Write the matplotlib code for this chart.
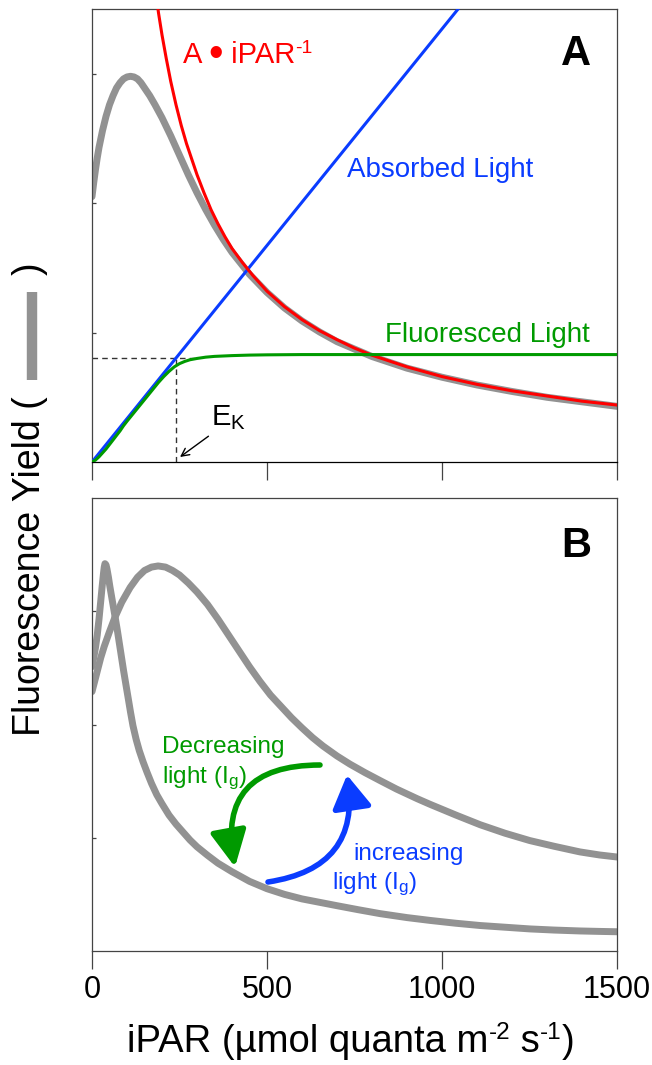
import matplotlib
matplotlib.use("Agg")
import matplotlib.pyplot as plt
from matplotlib.lines import Line2D
from matplotlib.transforms import IdentityTransform

plt.rcParams['font.family'] = ['Liberation Sans', 'DejaVu Sans']
plt.rcParams['mathtext.fontset'] = 'custom'
plt.rcParams['mathtext.rm'] = 'Liberation Sans'
plt.rcParams['mathtext.it'] = 'Liberation Sans:italic'
plt.rcParams['mathtext.bf'] = 'Liberation Sans:bold'

# ---------------- data ----------------
xticks = [0, 500, 1000, 1500]
xtick_labels = ['0', '500', '1000', '1500']

# Panel A
absorbed_x = [0, 1046]
absorbed_y = [0, 3.5]

fluor_x = [0, 10, 20, 30, 40, 50, 60, 70, 80, 90, 100, 115, 130, 145, 160, 175, 190, 205, 220, 235,
           250, 265, 280, 300, 325, 350, 400, 450, 500, 600, 800, 1000, 1500]
fluor_y = [0, 0.015, 0.04, 0.07, 0.10, 0.135, 0.17, 0.205, 0.24, 0.28, 0.315, 0.365, 0.415, 0.465,
           0.515, 0.565, 0.615, 0.66, 0.70, 0.735, 0.76, 0.777, 0.79, 0.80, 0.81, 0.816, 0.822,
           0.826, 0.828, 0.83, 0.83, 0.83, 0.83]

red_x = [185, 190, 200, 212, 225, 240, 255, 270, 285, 300, 320, 340, 360, 380, 400, 430, 460, 500,
         550, 600, 650, 700, 750, 800, 900, 1000, 1100, 1200, 1300, 1400, 1500]
red_y = [3.57, 3.47, 3.30, 3.12, 2.94, 2.76, 2.60, 2.46, 2.34, 2.22, 2.08, 1.95, 1.84, 1.74, 1.65,
         1.54, 1.44, 1.32, 1.20, 1.10, 1.015, 0.945, 0.88, 0.825, 0.735, 0.66, 0.60, 0.55, 0.51,
         0.47, 0.44]

yieldA_x = [0, 5, 10, 15, 20, 30, 40, 50, 60, 70, 80, 90, 100, 110, 120, 130, 140, 150, 165, 180,
            200, 225, 250, 275, 300, 325, 350, 375, 400, 450, 500, 550, 600, 650, 700, 800, 900,
            1000, 1100, 1200, 1300, 1400, 1500]
yieldA_y = [2.05, 2.16, 2.26, 2.35, 2.43, 2.56, 2.67, 2.76, 2.83, 2.89, 2.93, 2.96, 2.975, 2.98,
            2.975, 2.96, 2.93, 2.89, 2.83, 2.76, 2.66, 2.52, 2.37, 2.22, 2.08, 1.95, 1.83, 1.72,
            1.62, 1.45, 1.31, 1.19, 1.09, 1.005, 0.93, 0.815, 0.725, 0.655, 0.595, 0.545, 0.50,
            0.465, 0.43]

ek_x = 240
ek_y = 0.806
ek_hline_end = 294

# Panel B
sharp_x = [0, 5, 10, 15, 20, 25, 29, 33, 35, 37, 40, 43, 47, 51, 56, 61, 66, 72, 78, 84, 90, 97,
           103, 110, 117, 126, 135, 146, 157, 170, 185, 200, 220, 240, 260, 280, 300, 330, 360,
           400, 450, 500, 550, 600, 650, 700, 760, 823, 900, 966, 1040, 1109, 1180, 1251, 1320,
           1394, 1450, 1500]
sharp_y = [2.51, 2.59, 2.68, 2.79, 2.93, 3.09, 3.22, 3.34, 3.39, 3.42, 3.41, 3.37, 3.30, 3.22,
           3.13, 3.04, 2.95, 2.84, 2.72, 2.60, 2.48, 2.35, 2.24, 2.11, 1.99, 1.87, 1.77, 1.67,
           1.58, 1.48, 1.38, 1.30, 1.20, 1.12, 1.05, 0.98, 0.92, 0.845, 0.775, 0.70, 0.615, 0.55,
           0.50, 0.46, 0.43, 0.40, 0.365, 0.33, 0.295, 0.27, 0.245, 0.225, 0.21, 0.195, 0.185,
           0.177, 0.173, 0.17]

broad_x = [0, 5, 10, 15, 25, 35, 50, 66, 85, 109, 130, 150, 170, 189, 210, 230, 250, 275, 300, 330,
           360, 390, 420, 450, 480, 510, 540, 570, 600, 630, 660, 700, 737, 780, 823, 870, 929,
           966, 1040, 1109, 1180, 1251, 1320, 1394, 1450, 1500]
broad_y = [2.29, 2.35, 2.41, 2.47, 2.59, 2.69, 2.82, 2.95, 3.08, 3.21, 3.30, 3.36, 3.39, 3.40,
           3.39, 3.36, 3.32, 3.25, 3.17, 3.06, 2.93, 2.79, 2.65, 2.51, 2.38, 2.26, 2.16, 2.06,
           1.97, 1.885, 1.81, 1.722, 1.65, 1.575, 1.505, 1.43, 1.345, 1.295, 1.20, 1.115, 1.04,
           0.975, 0.925, 0.875, 0.848, 0.83]

# ---------------- style ----------------
GRAY = '#929292'
RED = '#ff0000'
BLUE = '#0a3cff'
GREEN = '#009a00'
SPINE = '#444444'

W, H = 652, 1065
fig = plt.figure(figsize=(W / 100, H / 100), dpi=100)
renderer = fig.canvas.get_renderer()


def fx(px):
    return px / W


def fy(py):
    return 1 - py / H


def rich_text(x_px, y_px, pieces, color='black', ha='left'):
    """pieces: list of (string, fontsize, rise_px); y_px is baseline (image coords)."""
    arts = []
    widths = []
    for s, size, rise in pieces:
        t = fig.text(0, 0, s, fontsize=size, color=color, ha='left', va='baseline',
                     transform=IdentityTransform())
        w = t.get_window_extent(renderer).width
        arts.append((t, rise))
        widths.append(w)
    total = sum(widths)
    x = x_px - (total / 2 if ha == 'center' else 0)
    for (t, rise), w in zip(arts, widths):
        t.set_position((x, H - y_px + rise))
        x += w


axA = fig.add_axes([fx(92), fy(462), fx(617) - fx(92), fy(9) - fy(462)])
axB = fig.add_axes([fx(92), fy(951), fx(617) - fx(92), fy(498) - fy(951)])

for ax, ytop in ((axA, 3.5), (axB, 4.0)):
    ax.set_xlim(0, 1500)
    ax.set_ylim(0, ytop)
    ax.set_xticks(xticks)
    ax.set_yticks([1, 2, 3])
    ax.set_yticklabels([])
    ax.tick_params(axis='x', direction='out', length=13, width=0.9, color=SPINE,
                   labelsize=22, pad=4)
    ax.tick_params(axis='y', direction='in', length=3, width=0.9, color=SPINE)
    for s in ax.spines.values():
        s.set_color(SPINE)
        s.set_linewidth(0.9)

axA.set_xticklabels([])
axB.set_xticklabels(xtick_labels)
axA.spines['bottom'].set_color('black')

# Panel A lines
axA.plot(yieldA_x, yieldA_y, color=GRAY, lw=5, solid_capstyle='round', zorder=2)
axA.plot(absorbed_x, absorbed_y, color=BLUE, lw=2.2, zorder=3)
axA.plot(red_x, red_y, color=RED, lw=2.2, zorder=4)
axA.plot(fluor_x, fluor_y, color=GREEN, lw=2.2, zorder=5)
axA.plot([0, ek_hline_end], [ek_y, ek_y], color='#333333', lw=1, ls=(0, (4, 3)), zorder=1)
axA.plot([ek_x, ek_x], [0, ek_y], color='#333333', lw=1, ls=(0, (4, 3)), zorder=1)

fig.text(fx(575.5), fy(65), 'A', fontsize=30, fontweight='bold', ha='center', va='baseline')
rich_text(183, 63, [('A ', 21, 0), ('\u2022', 30, -3), (' iPAR', 21, 0), ('-1', 14, 10)],
          color=RED)
fig.text(fx(347), fy(177), 'Absorbed Light', fontsize=20, color=BLUE, ha='left', va='baseline')
fig.text(fx(385), fy(342), 'Fluoresced Light', fontsize=20, color=GREEN, ha='left', va='baseline')
axA.annotate('E$_{\\mathregular{K}}$', xy=(fx(180), fy(457)), xycoords='figure fraction',
             xytext=(fx(211), fy(425)), textcoords='figure fraction',
             fontsize=21, ha='left', va='baseline',
             arrowprops=dict(arrowstyle='->', color='black', lw=1,
                             shrinkA=2, shrinkB=0, mutation_scale=14,
                             relpos=(0.1, 0.0)))

# Panel B lines
axB.plot(broad_x, broad_y, color=GRAY, lw=5, solid_capstyle='round', zorder=2)
axB.plot(sharp_x, sharp_y, color=GRAY, lw=5, solid_capstyle='round', zorder=2)

fig.text(fx(576), fy(557), 'B', fontsize=30, fontweight='bold', ha='center', va='baseline')

# curved arrows
axB.annotate('', xy=(fx(235), fy(867)), xycoords='figure fraction',
             xytext=(fx(320), fy(765)), textcoords='figure fraction',
             arrowprops=dict(arrowstyle='-|>,head_length=1.1,head_width=0.55',
                             connectionstyle='arc3,rad=0.6', color=GREEN,
                             lw=4, mutation_scale=20, shrinkA=0, shrinkB=0))
axB.annotate('', xy=(fx(347), fy(775)), xycoords='figure fraction',
             xytext=(fx(268), fy(882)), textcoords='figure fraction',
             arrowprops=dict(arrowstyle='-|>,head_length=1.0,head_width=0.6',
                             connectionstyle='arc3,rad=0.5', color=BLUE,
                             lw=4, mutation_scale=20, shrinkA=0, shrinkB=0))

fig.text(fx(162), fy(753), 'Decreasing', fontsize=17.5, color=GREEN, ha='left', va='baseline')
fig.text(fx(162), fy(783), 'light (I$_{\\mathregular{g}}$)', fontsize=17.5, color=GREEN,
         ha='left', va='baseline')
fig.text(fx(353), fy(860), 'increasing', fontsize=17.5, color=BLUE, ha='left', va='baseline')
fig.text(fx(332), fy(889), 'light (I$_{\\mathregular{g}}$)', fontsize=17.5, color=BLUE,
         ha='left', va='baseline')

# axis labels
rich_text(351, 1052, [('iPAR (\u00b5mol quanta m', 27.5, 0), ('-2', 17.5, 13),
                      (' s', 27.5, 0), ('-1', 17.5, 13), (')', 27.5, 0)], ha='center')
fig.text(fx(30), fy(736), 'Fluorescence Yield (', fontsize=27, rotation=90,
         ha='center', va='bottom')
fig.text(fx(30), fy(262), ')', fontsize=27, rotation=90, ha='center', va='top')
fig.add_artist(Line2D([fx(32), fx(32)], [fy(380), fy(292)], transform=fig.transFigure,
                      color=GRAY, lw=7.5, solid_capstyle='butt'))

fig.savefig('out.png', dpi=100)
